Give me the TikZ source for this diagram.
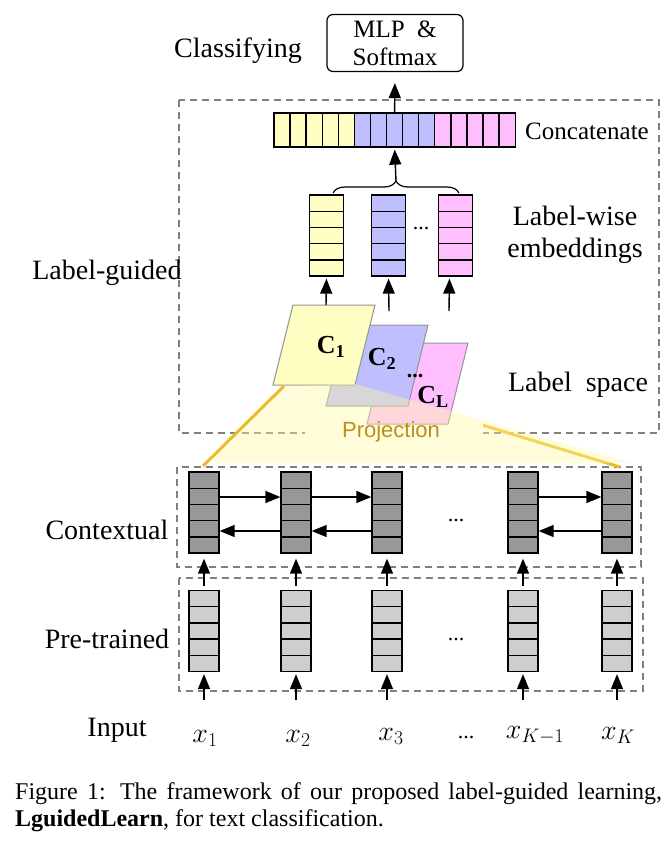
\RequirePackage{fix-cm}
\documentclass[tikz,border=0pt]{standalone}
\usepackage[no-math]{fontspec}
\setmainfont{Liberation Serif}
\newfontfamily\projfont{Liberation Sans}
\usepackage{amsmath}
\usetikzlibrary{arrows.meta,positioning,calc,decorations.pathreplacing}
\definecolor{ycell}{RGB}{255,255,195}
\definecolor{bcell}{RGB}{191,191,255}
\definecolor{pcell}{RGB}{255,191,255}
\definecolor{dcell}{RGB}{152,152,152}
\definecolor{lcell}{RGB}{206,206,206}
\definecolor{projyellow}{RGB}{255,250,160}
\definecolor{projline}{RGB}{236,186,45}
\definecolor{projtext}{RGB}{186,142,32}

\begin{document}
\begin{tikzpicture}[x=1pt,y=-1pt,
        lbl/.style={font=\fontsize{28}{32}\selectfont, align=center, yshift=-2.5pt},
        small/.style={font=\fontsize{25}{28}\selectfont, align=center},
        dbox/.style={draw=gray, dash pattern=on 7pt off 5pt, line width=1.1pt},
        arr/.style={-{Triangle[length=15pt,width=12pt]}, line width=1.4pt},
        vec/.style={draw, line width=1.3pt, inner sep=0pt, minimum width=30pt, minimum height=81pt,
            path picture={\foreach \k in {1,...,4}{\draw[line width=1.4pt] ($(path picture bounding box.north west)!\k/5!(path picture bounding box.south west)$) -- ($(path picture bounding box.north east)!\k/5!(path picture bounding box.south east)$);}}},
        hvec/.style={draw, line width=1.3pt, inner sep=0pt, minimum width=80.4pt, minimum height=34pt,
            path picture={\foreach \k in {1,...,4}{\draw[line width=1.4pt] ($(path picture bounding box.north west)!\k/5!(path picture bounding box.north east)$) -- ($(path picture bounding box.south west)!\k/5!(path picture bounding box.south east)$);}}},
        plane/.style={draw=gray!85, line width=1pt},
        clab/.style={font=\fontsize{26}{28}\selectfont\bfseries},
        dots/.style={font=\fontsize{22}{24}\selectfont}]
                \useasboundingbox (0,0) rectangle (666,849);

                % classifying
                \node[lbl] (cls) at (238,48) {Classifying};
                \node[small, draw, rounded corners=6pt, line width=1.2pt, minimum width=136pt, minimum height=57pt] (mlp) at (395,43) {MLP\ \ \&\\Softmax};

                % dashed boxes
                \draw[dbox] (179,100) rectangle (659,433);
                \draw[dbox] (177,467) rectangle (641,567);
                \draw[dbox] (179,578) rectangle (643,691);

                % concatenation
                \node[hvec, fill=ycell] (catY) at (314.2,130) {};
                \node[hvec, fill=bcell] (catB) at (394.6,130) {};
                \node[hvec, fill=pcell] (catP) at (475,130) {};
                \node[small] (cat) at (587,131) {Concatenate};
                \draw[arr, shorten >=11pt] (catB.north) -- (mlp.south);

                % label-wise embeddings
                \node[vec, minimum width=34pt, fill=ycell] (ey) at (326.5,235.5) {};
                \node[vec, minimum width=34pt, fill=bcell] (eb) at (388.5,235.5) {};
                \node[vec, minimum width=34pt, fill=pcell] (ep) at (455.5,235.5) {};
                \node[dots, anchor=base] (edots) at (421,229) {...};
                \node[lbl] (emb) at (575,232) {Label-wise\\embeddings};

                \coordinate (bl) at (333,193);
                \coordinate (br) at (459,193);
                \coordinate (bt) at (396,181);
                \draw[decorate, decoration={brace, amplitude=12pt}, line width=1.2pt] (bl) -- (br);
                \draw[arr, shorten >=2pt] (bt) -- (catB.south);

                % label space
                \node[lbl] (guided) at (107,270) {Label-guided};
                \node[lbl] (space) at (578,382) {Label~~space};

                \draw[projline, line width=3pt] (482,425) -- (620,467);
                \fill[white] (305,411) rectangle (483,450);

                \filldraw[plane, fill=pcell] (387,343) -- (468,343) -- (448,424) -- (367,424) -- cycle;
                \filldraw[plane, fill=bcell] (346,325) -- (428,325) -- (408,406) -- (326,406) -- cycle;
                \filldraw[plane, fill=ycell] (293,305) -- (375,305) -- (355,385) -- (273,385) -- cycle;

                \fill[projyellow, opacity=0.4] (282,386) -- (355,384) -- (632,463) -- (210,463) -- cycle;
                \draw[projline, line width=3pt] (284,386) -- (203,466);
                \node[font=\projfont\fontsize{22}{24}\selectfont, text=projtext] (proj) at (391,432) {Projection};

                \node[clab] (c1) at (331,347) {C\textsubscript{1}};
                \node[clab] (c2) at (382,359) {C\textsubscript{2}};
                \node[dots, font=\fontsize{22}{24}\selectfont\bfseries, anchor=base] (cdots) at (415,377) {...};
                \node[clab] (cl) at (433,397) {C\textsubscript{L}};

                \coordinate (s1) at (326,305);
                \coordinate (s2) at (389,311);
                \coordinate (s3) at (449,311);
                \draw[arr, shorten >=2pt] (s1) -- (ey.south);
                \draw[arr, shorten >=2pt] (s2) -- (eb.south);
                \draw[arr, shorten >=2pt] (s3) -- ([xshift=-6pt]ep.south);

                % contextual and pre-trained
                \node[lbl] (ctx) at (107,527) {Contextual};
                \node[lbl] (pre) at (107,636) {Pre-trained};
                \node[lbl] (inp) at (117,728) {Input};

                \foreach \i/\x in {1/204,2/296,3/387,4/523,5/617} {
                    \node[vec, fill=dcell] (h\i) at (\x,512.5) {};
                    \node[vec, fill=lcell] (p\i) at (\x,631) {};
                    \coordinate (b\i) at (\x,700);
                    \draw[arr, shorten >=5pt, shorten <=4pt] (p\i.north) -- (h\i.south);
                    \draw[arr, shorten >=2pt] (b\i) -- (p\i.south);
                }
                \node[dots, anchor=base] (hdots) at (456,521) {...};
                \node[dots, anchor=base] (pdots) at (456,640) {...};

                \foreach \a/\b in {1/2,2/3,4/5} {
                    \draw[arr] ([yshift=15.5pt]h\a.east) -- ([yshift=15.5pt]h\b.west);
                    \draw[arr] ([yshift=-18.5pt]h\b.west) -- ([yshift=-18.5pt]h\a.east);
                }

                % inputs
                \node[lbl] (x1) at (205,736) {$x_1$};
                \node[lbl] (x2) at (298,736) {$x_2$};
                \node[lbl] (x3) at (391,734) {$x_3$};
                \node[dots, anchor=base] (xdots) at (466,738) {...};
                \node[lbl] (xk1) at (535,733) {$x_{K-1}$};
                \node[lbl] (xk) at (618,733) {$x_K$};

                % caption
                \node[anchor=base west, inner sep=0pt, font=\fontsize{24}{28}\selectfont] (cap1) at (15,799) {\makebox[647pt][s]{Figure 1: The framework of our proposed label-guided learning,}};
                \node[anchor=base west, inner sep=0pt, font=\fontsize{24}{28}\selectfont] (cap2) at (15,826) {\textbf{LguidedLearn}, for text classification.};
\end{tikzpicture}
\end{document}
